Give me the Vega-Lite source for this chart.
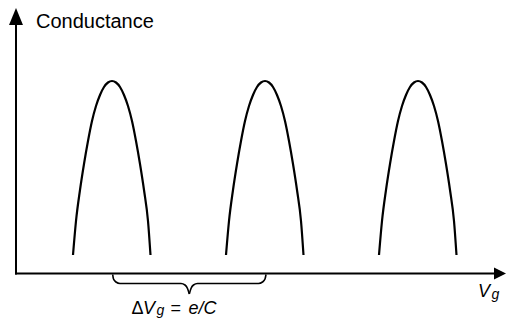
{
  "$schema": "https://vega.github.io/schema/vega-lite/v6.json",
  "width": 508,
  "height": 320,
  "autosize": {"type": "fit", "contains": "padding"},
  "padding": 0,
  "background": "white",
  "config": {"view": {"stroke": null}, "font": "Liberation Sans"},
  "datasets": {
    "axes": [
      {"x": 0, "y": 0, "x2": 4.79, "y2": 0},
      {"x": 0, "y": 0, "x2": 0, "y2": 2.5}
    ],
    "arrowUp": [{"x": 0, "y": 2.57}],
    "arrowRight": [{"x": 4.84, "y": 0}],
    "peaks": [
      {"peak": 1, "x": 0.57, "y": 0.185}, {"peak": 1, "x": 0.60, "y": 0.525}, {"peak": 1, "x": 0.64, "y": 0.835},
      {"peak": 1, "x": 0.68, "y": 1.095}, {"peak": 1, "x": 0.72, "y": 1.325}, {"peak": 1, "x": 0.76, "y": 1.525},
      {"peak": 1, "x": 0.80, "y": 1.675}, {"peak": 1, "x": 0.84, "y": 1.785}, {"peak": 1, "x": 0.88, "y": 1.865},
      {"peak": 1, "x": 0.92, "y": 1.91}, {"peak": 1, "x": 0.96, "y": 1.925}, {"peak": 1, "x": 1.00, "y": 1.91},
      {"peak": 1, "x": 1.04, "y": 1.865}, {"peak": 1, "x": 1.08, "y": 1.785}, {"peak": 1, "x": 1.12, "y": 1.675},
      {"peak": 1, "x": 1.16, "y": 1.525}, {"peak": 1, "x": 1.20, "y": 1.325}, {"peak": 1, "x": 1.24, "y": 1.095},
      {"peak": 1, "x": 1.28, "y": 0.835}, {"peak": 1, "x": 1.32, "y": 0.525}, {"peak": 1, "x": 1.345, "y": 0.185},
      {"peak": 2, "x": 2.10, "y": 0.185}, {"peak": 2, "x": 2.13, "y": 0.525}, {"peak": 2, "x": 2.17, "y": 0.835},
      {"peak": 2, "x": 2.21, "y": 1.095}, {"peak": 2, "x": 2.25, "y": 1.325}, {"peak": 2, "x": 2.29, "y": 1.525},
      {"peak": 2, "x": 2.33, "y": 1.675}, {"peak": 2, "x": 2.37, "y": 1.785}, {"peak": 2, "x": 2.41, "y": 1.865},
      {"peak": 2, "x": 2.45, "y": 1.91}, {"peak": 2, "x": 2.49, "y": 1.925}, {"peak": 2, "x": 2.53, "y": 1.91},
      {"peak": 2, "x": 2.57, "y": 1.865}, {"peak": 2, "x": 2.61, "y": 1.785}, {"peak": 2, "x": 2.65, "y": 1.675},
      {"peak": 2, "x": 2.69, "y": 1.525}, {"peak": 2, "x": 2.73, "y": 1.325}, {"peak": 2, "x": 2.77, "y": 1.095},
      {"peak": 2, "x": 2.81, "y": 0.835}, {"peak": 2, "x": 2.85, "y": 0.525}, {"peak": 2, "x": 2.875, "y": 0.185},
      {"peak": 3, "x": 3.63, "y": 0.185}, {"peak": 3, "x": 3.66, "y": 0.525}, {"peak": 3, "x": 3.70, "y": 0.835},
      {"peak": 3, "x": 3.74, "y": 1.095}, {"peak": 3, "x": 3.78, "y": 1.325}, {"peak": 3, "x": 3.82, "y": 1.525},
      {"peak": 3, "x": 3.86, "y": 1.675}, {"peak": 3, "x": 3.90, "y": 1.785}, {"peak": 3, "x": 3.94, "y": 1.865},
      {"peak": 3, "x": 3.98, "y": 1.91}, {"peak": 3, "x": 4.02, "y": 1.925}, {"peak": 3, "x": 4.06, "y": 1.91},
      {"peak": 3, "x": 4.10, "y": 1.865}, {"peak": 3, "x": 4.14, "y": 1.785}, {"peak": 3, "x": 4.18, "y": 1.675},
      {"peak": 3, "x": 4.22, "y": 1.525}, {"peak": 3, "x": 4.26, "y": 1.325}, {"peak": 3, "x": 4.30, "y": 1.095},
      {"peak": 3, "x": 4.34, "y": 0.835}, {"peak": 3, "x": 4.38, "y": 0.525}, {"peak": 3, "x": 4.405, "y": 0.185}
    ],
    "brace": [
      {"half": "L", "x": 0.967, "y": -0.01}, {"half": "L", "x": 0.975, "y": -0.055}, {"half": "L", "x": 1.0, "y": -0.085},
      {"half": "L", "x": 1.04, "y": -0.1}, {"half": "L", "x": 1.65, "y": -0.1}, {"half": "L", "x": 1.69, "y": -0.115},
      {"half": "L", "x": 1.715, "y": -0.15}, {"half": "L", "x": 1.733, "y": -0.205},
      {"half": "R", "x": 1.733, "y": -0.205}, {"half": "R", "x": 1.75, "y": -0.15}, {"half": "R", "x": 1.775, "y": -0.115},
      {"half": "R", "x": 1.815, "y": -0.1}, {"half": "R", "x": 2.425, "y": -0.1}, {"half": "R", "x": 2.465, "y": -0.085},
      {"half": "R", "x": 2.49, "y": -0.055}, {"half": "R", "x": 2.5, "y": -0.01}
    ],
    "labelTitle": [{"label": "Conductance", "x": 0.2, "y": 2.455}],
    "labelNormal": [
      {"label": "Δ", "x": 1.155, "y": -0.4},
      {"label": "=", "x": 1.545, "y": -0.4}
    ],
    "labelItalic": [
      {"label": "V", "x": 1.27, "y": -0.4},
      {"label": "e/C", "x": 1.725, "y": -0.4},
      {"label": "V", "x": 4.62, "y": -0.235}
    ],
    "labelSub": [
      {"label": "g", "x": 1.405, "y": -0.415},
      {"label": "g", "x": 4.755, "y": -0.255}
    ]
  },
  "layer": [
    {
      "data": {"name": "axes"},
      "mark": {"type": "rule", "color": "black", "strokeWidth": 2, "strokeCap": "square"},
      "encoding": {
        "x": {"field": "x", "type": "quantitative", "axis": null, "scale": {"domain": [-0.16, 4.92], "nice": false, "zero": false}},
        "y": {"field": "y", "type": "quantitative", "axis": null, "scale": {"domain": [-0.465, 2.735], "nice": false, "zero": false}},
        "x2": {"field": "x2"},
        "y2": {"field": "y2"}
      }
    },
    {
      "data": {"name": "arrowUp"},
      "mark": {"type": "point", "shape": "M0,-1L0.82,1L-0.82,1Z", "size": 289, "filled": true, "color": "black", "opacity": 1},
      "encoding": {
        "x": {"field": "x", "type": "quantitative", "axis": null, "scale": {"domain": [-0.16, 4.92], "nice": false, "zero": false}},
        "y": {"field": "y", "type": "quantitative", "axis": null, "scale": {"domain": [-0.465, 2.735], "nice": false, "zero": false}}
      }
    },
    {
      "data": {"name": "arrowRight"},
      "mark": {"type": "point", "shape": "M1,0L-1,-1L-1,1Z", "size": 144, "filled": true, "color": "black", "opacity": 1},
      "encoding": {
        "x": {"field": "x", "type": "quantitative", "axis": null, "scale": {"domain": [-0.16, 4.92], "nice": false, "zero": false}},
        "y": {"field": "y", "type": "quantitative", "axis": null, "scale": {"domain": [-0.465, 2.735], "nice": false, "zero": false}}
      }
    },
    {
      "data": {"name": "peaks"},
      "mark": {"type": "line", "color": "black", "strokeWidth": 2.2, "interpolate": "monotone"},
      "encoding": {
        "x": {"field": "x", "type": "quantitative", "axis": null, "scale": {"domain": [-0.16, 4.92], "nice": false, "zero": false}},
        "y": {"field": "y", "type": "quantitative", "axis": null, "scale": {"domain": [-0.465, 2.735], "nice": false, "zero": false}},
        "detail": {"field": "peak", "type": "nominal"}
      }
    },
    {
      "data": {"name": "brace"},
      "mark": {"type": "line", "color": "black", "strokeWidth": 1.6, "interpolate": "monotone"},
      "encoding": {
        "x": {"field": "x", "type": "quantitative", "axis": null, "scale": {"domain": [-0.16, 4.92], "nice": false, "zero": false}},
        "y": {"field": "y", "type": "quantitative", "axis": null, "scale": {"domain": [-0.465, 2.735], "nice": false, "zero": false}},
        "detail": {"field": "half", "type": "nominal"}
      }
    },
    {
      "data": {"name": "labelTitle"},
      "mark": {"type": "text", "fontSize": 20, "align": "left", "baseline": "alphabetic", "color": "black"},
      "encoding": {
        "x": {"field": "x", "type": "quantitative", "axis": null, "scale": {"domain": [-0.16, 4.92], "nice": false, "zero": false}},
        "y": {"field": "y", "type": "quantitative", "axis": null, "scale": {"domain": [-0.465, 2.735], "nice": false, "zero": false}},
        "text": {"field": "label"}
      }
    },
    {
      "data": {"name": "labelNormal"},
      "mark": {"type": "text", "fontSize": 18, "align": "left", "baseline": "alphabetic", "color": "black"},
      "encoding": {
        "x": {"field": "x", "type": "quantitative", "axis": null, "scale": {"domain": [-0.16, 4.92], "nice": false, "zero": false}},
        "y": {"field": "y", "type": "quantitative", "axis": null, "scale": {"domain": [-0.465, 2.735], "nice": false, "zero": false}},
        "text": {"field": "label"}
      }
    },
    {
      "data": {"name": "labelItalic"},
      "mark": {"type": "text", "fontSize": 18, "fontStyle": "italic", "align": "left", "baseline": "alphabetic", "color": "black"},
      "encoding": {
        "x": {"field": "x", "type": "quantitative", "axis": null, "scale": {"domain": [-0.16, 4.92], "nice": false, "zero": false}},
        "y": {"field": "y", "type": "quantitative", "axis": null, "scale": {"domain": [-0.465, 2.735], "nice": false, "zero": false}},
        "text": {"field": "label"}
      }
    },
    {
      "data": {"name": "labelSub"},
      "mark": {"type": "text", "fontSize": 14, "fontStyle": "italic", "align": "left", "baseline": "alphabetic", "color": "black"},
      "encoding": {
        "x": {"field": "x", "type": "quantitative", "axis": null, "scale": {"domain": [-0.16, 4.92], "nice": false, "zero": false}},
        "y": {"field": "y", "type": "quantitative", "axis": null, "scale": {"domain": [-0.465, 2.735], "nice": false, "zero": false}},
        "text": {"field": "label"}
      }
    }
  ]
}
